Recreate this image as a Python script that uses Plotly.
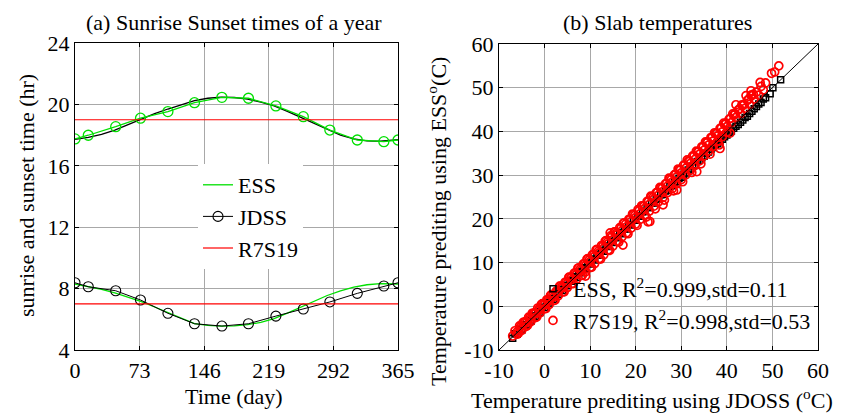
#%% Libraries
import plotly.graph_objs as go

#%% Data, panel (a): sunrise / sunset times over the year
# days where the circle markers sit
mark_days = [0, 15, 46, 74, 105, 135, 166, 196, 227, 258, 288, 319, 349, 365]
ess_sunset_marks = [17.75, 17.99, 18.55, 19.10, 19.53, 20.11, 20.46, 20.40,
                    19.90, 19.20, 18.33, 17.68, 17.57, 17.68]
jdss_sunrise_marks = [8.38, 8.12, 7.86, 7.26, 6.39, 5.71, 5.56, 5.71,
                      6.21, 6.67, 7.13, 7.69, 8.17, 8.38]

# days for the smooth curves
curve_days = [0, 15, 30, 45, 60, 75, 90, 105, 120, 135, 150, 165, 180, 195,
              210, 225, 240, 255, 270, 285, 300, 315, 330, 345, 365]
jdss_sunset_curve = [17.72, 17.85, 18.05, 18.33, 18.68, 19.05, 19.40, 19.70,
                     20.00, 20.25, 20.40, 20.47, 20.45, 20.35, 20.15, 19.90,
                     19.55, 19.15, 18.75, 18.35, 18.00, 17.75, 17.62, 17.60, 17.70]
ess_sunrise_curve = [8.30, 8.15, 7.95, 7.72, 7.45, 7.15, 6.80, 6.45, 6.05,
                     5.72, 5.60, 5.55, 5.57, 5.65, 5.80, 6.05, 6.40, 6.80,
                     7.20, 7.55, 7.85, 8.10, 8.25, 8.32, 8.30]

r7s19_days = [0, 365]
r7s19_sunset = [19, 19]
r7s19_sunrise = [7, 7]

day_ticks = [0, 73, 146, 219, 292, 365]
hour_ticks = [4, 8, 12, 16, 20, 24]

#%% Data, panel (b): slab temperatures (JDOSS on x, model on y)
ess_jdoss_a = [-7.0, -6.0, -5.0, -4.0, -3.0, -2.0, -1.0, 0.0, 1.0, 2.0, 3.0, 4.0,
               5.0, 6.0, 7.0, 8.0, 9.0, 10.0, 11.0, 12.0, 13.0, 14.0, 15.0, 16.0,
               17.0, 18.0, 19.0, 20.0, 21.0, 22.0, 23.0, 24.0, 25.0, 26.0, 27.0,
               28.0, 29.0, 30.0, 31.0, 32.0, 33.0, 34.0, 35.0, 36.0, 37.0, 38.0,
               39.0, 40.0, 41.0, 42.0, 43.0, 44.0, 45.0, 46.0, 47.0, 48.0, 50.1, 51.8]
ess_temp_a = [-7.3, -6.4, -5.4, -4.3, -3.4, -2.3, -1.4, -0.3, 0.7, 1.6, 2.7, 3.6,
              4.7, 5.7, 6.6, 7.7, 8.6, 9.7, 10.6, 11.7, 12.6, 13.7, 14.6, 15.7,
              16.6, 17.7, 18.6, 19.7, 20.6, 21.7, 22.6, 23.6, 24.6, 25.6, 26.5,
              27.6, 28.5, 29.5, 30.5, 31.4, 32.4, 33.4, 34.3, 35.3, 36.3, 37.2,
              38.2, 39.2, 40.1, 41.2, 42.1, 43.2, 44.1, 45.2, 46.3, 47.4, 50.0, 51.8]
ess_jdoss_b = [-6.5, -5.5, -4.5, -3.5, -2.5, -1.5, -0.5, 0.5, 1.5, 2.5, 3.5, 4.5,
               5.5, 6.5, 7.5, 8.5, 9.5, 10.5, 11.5, 12.5, 13.5, 14.5, 15.5, 16.5,
               17.5, 18.5, 19.5, 20.5, 21.5, 22.5, 23.5, 24.5, 25.5, 26.5, 27.5,
               28.5, 29.5, 30.5, 31.5, 32.5, 33.5, 34.5, 35.5, 36.5, 37.5, 38.5,
               39.5, 40.5, 41.5, 42.5, 43.5, 44.5, 45.5, 46.5, 47.5, 48.5, 49.5]
ess_temp_b = [-6.3, -5.2, -4.3, -3.2, -2.2, -1.2, -0.2, 0.8, 1.8, 2.8, 3.9, 4.8,
              5.9, 6.8, 7.9, 8.8, 9.9, 10.8, 11.9, 12.8, 13.8, 14.8, 15.8, 16.8,
              17.7, 18.7, 19.7, 20.7, 21.6, 22.6, 23.6, 24.5, 25.5, 26.4, 27.4,
              28.3, 29.3, 30.2, 31.2, 32.1, 33.1, 34.0, 35.0, 35.9, 36.9, 37.8,
              38.8, 39.7, 40.7, 41.6, 42.6, 43.5, 44.6, 45.7, 46.6, 47.7, 48.6]

r7_jdoss_a = [-6.5, -5.5, -4.5, -3.5, -2.5, -1.5, -0.5, 0.5, 1.5, 2.5, 3.5, 4.5,
              5.5, 6.5, 7.5, 8.5, 9.5, 10.5, 11.5, 12.5, 13.5, 14.5, 15.5, 16.5,
              17.5, 18.5, 19.5, 20.5, 21.5, 22.5, 23.5, 24.5, 25.5, 26.5, 27.5,
              28.5, 29.5, 30.5, 31.5, 32.5, 33.5, 34.5, 35.5, 36.5, 37.5, 38.5,
              39.5, 40.5, 41.5, 42.5, 43.5, 44.5, 45.5, 46.5, 47.5, 48.5]
r7_temp_a = [-5.6, -4.5, -3.7, -2.5, -1.6, -0.4, 0.6, 1.5, 2.6, 3.4, 4.6, 5.5,
             6.7, 7.6, 8.8, 9.7, 10.9, 11.8, 13.0, 13.9, 15.0, 16.1, 17.0, 18.0,
             19.1, 19.9, 21.0, 22.1, 22.9, 24.0, 25.1, 26.0, 27.1, 28.0, 29.2,
             30.1, 31.2, 32.3, 33.2, 34.4, 35.3, 36.5, 37.4, 38.6, 39.5, 40.7,
             41.6, 42.8, 43.7, 44.9, 45.9, 47.1, 48.2, 49.0, 50.3, 51.1]
r7_jdoss_b = [-7.0, -6.0, -5.0, -4.0, -3.0, -2.0, -1.0, 0.0, 1.0, 2.0, 3.0, 4.0,
              5.0, 6.0, 7.0, 8.0, 9.0, 10.0, 11.0, 12.0, 13.0, 14.0, 15.0, 16.0,
              17.0, 18.0, 19.0, 20.0, 21.0, 22.0, 23.0, 24.0, 25.0, 26.0, 27.0,
              28.0, 29.0, 30.0, 31.0, 32.0, 33.0, 34.0, 35.0, 36.0, 37.0, 38.0,
              39.0, 40.0, 41.0, 42.0, 43.0, 44.0, 45.0, 46.0, 47.0, 48.0]
r7_temp_b = [-6.8, -5.8, -4.9, -3.8, -2.9, -1.7, -0.8, 0.3, 1.2, 2.1, 3.3, 4.2,
             5.3, 6.1, 7.3, 8.2, 9.3, 10.2, 11.4, 12.2, 13.3, 14.3, 15.2, 16.4,
             17.3, 18.2, 19.4, 20.3, 21.2, 22.4, 23.3, 24.5, 25.4, 26.3, 27.5,
             28.4, 29.6, 30.5, 31.6, 32.7, 33.6, 34.8, 35.7, 36.9, 37.8, 39.0,
             39.9, 41.1, 42.0, 43.2, 44.1, 45.3, 46.2, 47.4, 48.3, 49.5]
r7_jdoss_c = [-6.0, -5.0, -4.0, -3.0, -2.0, -1.0, 0.0, 1.0, 2.0, 3.0, 4.0, 5.0,
              6.0, 7.0, 8.0, 9.0, 10.0, 11.0, 12.0, 13.0, 14.0, 15.0, 16.0, 17.0,
              18.0, 19.0, 20.0, 21.0, 22.0, 23.0, 24.0, 25.0, 26.0, 27.0, 28.0,
              29.0, 30.0, 31.0, 32.0, 33.0, 34.0, 35.0, 36.0, 37.0, 38.0, 39.0, 40.0]
r7_temp_c = [-6.4, -5.5, -4.6, -3.5, -2.6, -1.5, -0.6, 0.4, 1.3, 2.4, 3.3, 4.3,
             5.2, 6.1, 7.0, 7.9, 8.9, 9.8, 10.9, 11.8, 12.9, 13.8, 14.9, 15.9,
             16.8, 17.9, 18.8, 19.9, 20.9, 21.8, 22.9, 23.9, 24.9, 26.0, 26.9,
             28.0, 29.0, 30.1, 31.1, 32.2, 33.3, 34.4, 35.5, 36.6, 37.7, 38.8, 39.8]
r7_jdoss_d = [-5.2, -4.2, -3.2, -2.2, -1.2, -0.2, 0.8, 1.8, 2.8, 3.8, 4.8, 5.8,
              6.8, 7.8, 8.8, 9.8, 10.8, 11.8, 12.8, 13.8, 14.8, 15.8, 16.8, 17.8,
              18.8, 19.8, 20.8, 21.8, 22.8, 23.8, 24.8, 25.8, 26.8, 27.8, 28.8,
              29.8, 30.8, 31.8, 32.8, 33.8, 34.8, 35.8, 36.8, 37.8, 38.8, 39.8,
              40.8, 41.8, 42.8, 43.8, 44.8, 45.8]
r7_temp_d = [-4.6, -3.5, -2.6, -1.5, -0.6, 0.5, 1.5, 2.4, 3.5, 4.4, 5.6, 6.5,
             7.6, 8.5, 9.7, 10.6, 11.8, 12.6, 13.8, 14.7, 15.9, 16.7, 17.9, 18.8,
             19.9, 20.8, 22.0, 22.9, 24.0, 24.9, 26.1, 27.0, 28.1, 29.0, 30.2,
             31.2, 32.3, 33.2, 34.4, 35.4, 36.5, 37.6, 38.7, 39.6, 40.8, 41.9,
             43.0, 44.0, 45.2, 46.2, 47.4, 48.5]
r7_jdoss_e = [-5.7, -3.7, -1.7, 0.3, 2.3, 4.3, 6.3, 8.3, 10.3, 12.3, 14.3, 16.3,
              18.3, 20.3, 22.3, 24.3, 26.3, 28.3, 30.3, 32.3, 34.3, 36.3, 38.3]
r7_temp_e = [-6.1, -4.3, -2.4, -0.5, 1.4, 3.3, 5.2, 7.1, 8.9, 10.8, 12.8, 14.7,
             16.6, 18.5, 20.4, 22.3, 24.3, 26.4, 28.5, 30.6, 32.6, 34.8, 36.9]
r7_jdoss_f = [-4.7, -2.7, -0.7, 1.3, 3.3, 5.3, 7.3, 9.3, 11.3, 13.3, 15.3, 17.3,
              19.3, 21.3, 23.3, 25.3, 27.3, 29.3, 31.3, 33.3, 35.3, 37.3, 39.3,
              41.3, 43.3, 45.3]
r7_temp_f = [-3.7, -1.6, 0.4, 2.5, 4.6, 6.6, 8.7, 10.8, 12.9, 14.9, 17.0, 19.0,
             21.1, 23.0, 25.2, 27.2, 29.3, 31.4, 33.5, 35.5, 37.6, 39.7, 41.9,
             44.0, 46.1, 48.3]
# scattered red circles off the main band
r7_jdoss_out = [9.0, 17.2, 22.7, 23.1, 26.0, 29.0, 33.4, 38.5, 40.7, 42.0,
                44.2, 45.3, 47.3, 49.8, 50.5, 51.4, 14.4]
r7_temp_out = [6.9, 14.0, 19.3, 19.4, 23.2, 26.6, 30.8, 36.1, 39.6, 46.1,
               48.2, 49.3, 51.2, 53.3, 53.6, 55.0, 16.8]

one_to_one = [-10, 60]
temp_ticks = [-10, 0, 10, 20, 30, 40, 50, 60]
temp_tick_labels = ['-10', '0', '10', '20', '30', '40', '50', '60']

#%% Build the figure
serif = 'Liberation Serif'
FS = 22
fig = go.Figure()

# panel (a)
fig.add_trace(go.Scatter(x=curve_days, y=jdss_sunset_curve, mode='lines',
    line=dict(color='black', width=1.3), showlegend=False, xaxis='x', yaxis='y'))
fig.add_trace(go.Scatter(x=mark_days, y=ess_sunset_marks, mode='lines+markers',
    line=dict(color='#00e000', width=1.3),
    marker=dict(symbol='circle-open', size=10, color='#00e000', line=dict(width=1.3)),
    showlegend=False, xaxis='x', yaxis='y'))
fig.add_trace(go.Scatter(x=curve_days, y=ess_sunrise_curve, mode='lines', name='ESS',
    line=dict(color='#00e000', width=1.3), legend='legend', xaxis='x', yaxis='y'))
fig.add_trace(go.Scatter(x=mark_days, y=jdss_sunrise_marks, mode='lines+markers', name='JDSS',
    line=dict(color='black', width=1),
    marker=dict(symbol='circle-open', size=10, color='black', line=dict(width=1.1)),
    legend='legend', xaxis='x', yaxis='y'))
fig.add_trace(go.Scatter(x=r7s19_days, y=r7s19_sunset, mode='lines', name='R7S19',
    line=dict(color='red', width=1.2), legend='legend', xaxis='x', yaxis='y'))
fig.add_trace(go.Scatter(x=r7s19_days, y=r7s19_sunrise, mode='lines',
    line=dict(color='red', width=1.2), showlegend=False, xaxis='x', yaxis='y'))

# panel (b)
ess_marker = dict(symbol='square-open', size=6, color='black', line=dict(width=1.5))
red_marker = dict(symbol='circle-open', size=8, color='red', line=dict(width=1.7))
fig.add_trace(go.Scatter(x=ess_jdoss_a, y=ess_temp_a, mode='markers',
    name='ESS, R<sup>2</sup>=0.999,std=0.11', marker=ess_marker,
    legend='legend2', xaxis='x2', yaxis='y2'))
fig.add_trace(go.Scatter(x=ess_jdoss_b, y=ess_temp_b, mode='markers', marker=ess_marker,
    showlegend=False, xaxis='x2', yaxis='y2'))
fig.add_trace(go.Scatter(x=r7_jdoss_a, y=r7_temp_a, mode='markers',
    name='R7S19, R<sup>2</sup>=0.998,std=0.53', marker=red_marker,
    legend='legend2', xaxis='x2', yaxis='y2'))
for xs, ys in [(r7_jdoss_b, r7_temp_b), (r7_jdoss_c, r7_temp_c), (r7_jdoss_d, r7_temp_d),
               (r7_jdoss_e, r7_temp_e), (r7_jdoss_f, r7_temp_f), (r7_jdoss_out, r7_temp_out)]:
    fig.add_trace(go.Scatter(x=xs, y=ys, mode='markers', marker=red_marker,
        showlegend=False, xaxis='x2', yaxis='y2'))
fig.add_trace(go.Scatter(x=one_to_one, y=one_to_one, mode='lines',
    line=dict(color='black', width=1), showlegend=False, xaxis='x2', yaxis='y2'))

#%% Axes and layout
# the page body adds an 8 px offset, so the figure is 8 px smaller and
# positions below are given in window pixels
OFF = 8
W, H = 856 - OFF, 418 - OFF
def px_x(p): return (p - OFF) / W
def px_y(p): return 1 - (p - OFF) / H

axis_common = dict(showline=True, linecolor='black', linewidth=1.2, mirror='ticks',
                   ticks='inside', ticklen=4, tickcolor='black', showgrid=True,
                   gridcolor='#a8a8a8', gridwidth=1, zeroline=False, automargin=False,
                   tickfont=dict(family=serif, size=FS, color='black'))

def label(text, x, y, angle=0):
    return dict(text=text, x=px_x(x), y=px_y(y), xref='paper', yref='paper',
                xanchor='center', yanchor='middle', textangle=angle,
                showarrow=False, font=dict(family=serif, size=FS, color='black'))

fig.update_layout(
    width=W, height=H,
    margin=dict(l=0, r=0, t=0, b=0, autoexpand=False),
    paper_bgcolor='white', plot_bgcolor='white',
    font=dict(family=serif, color='black'),
    xaxis=dict(domain=[px_x(75), px_x(398)], range=[0, 365], tickvals=day_ticks,
               anchor='y', **axis_common),
    yaxis=dict(domain=[px_y(350), px_y(43)], range=[4, 24], tickvals=hour_ticks,
               anchor='x', **axis_common),
    xaxis2=dict(domain=[px_x(499), px_x(818)], range=[-10, 60], tickvals=temp_ticks,
                ticktext=temp_tick_labels, anchor='y2', **axis_common),
    yaxis2=dict(domain=[px_y(350), px_y(44)], range=[-10, 60], tickvals=temp_ticks,
                ticktext=temp_tick_labels, anchor='x2', **axis_common),
    legend=dict(x=px_x(198), y=px_y(164), xanchor='left', yanchor='top',
                bgcolor='white', borderwidth=0, tracegroupgap=0,
                font=dict(family=serif, size=FS, color='black')),
    legend2=dict(x=px_x(533), y=px_y(268), xanchor='left', yanchor='top',
                 bgcolor='rgba(0,0,0,0)', borderwidth=0,
                 font=dict(family=serif, size=FS, color='black')),
    shapes=[dict(type='rect', xref='paper', yref='paper', layer='between',
                 x0=px_x(170), x1=px_x(320), y0=px_y(260), y1=px_y(166),
                 fillcolor='white', line=dict(width=0))],
    annotations=[
        label('(a) Sunrise Sunset times of a year', 234, 22),
        label('(b) Slab temperatures', 657, 22),
        label('Time (day)', 234, 396),
        label('Temperature prediting using JDOSS (<sup>o</sup>C)', 652, 399),
        label('sunrise and sunset time (hr)', 27, 196, -90),
        label('Temperature prediting using ESS<sup>o</sup>(C)', 437, 222, -90),
    ],
)

fig.write_html("out.html")
